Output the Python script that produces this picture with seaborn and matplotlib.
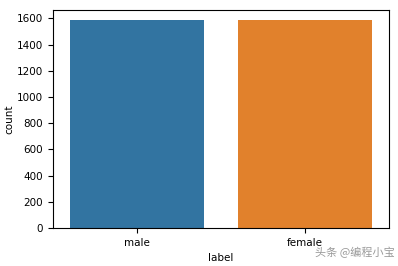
import matplotlib
matplotlib.use("Agg")
import matplotlib.pyplot as plt
import seaborn as sns
import pandas as pd

categories = ["male", "female"]
counts = [1584, 1584]

df = pd.DataFrame({"label": categories, "count": counts})

plt.rcParams['font.size'] = 7.5
fig = plt.figure(figsize=(3.98, 2.66), dpi=100)
ax = fig.add_axes([0.133, 0.143, 0.844, 0.819])
sns.barplot(data=df, x="label", y="count", hue="label", palette=["#1f77b4", "#ff7f0e"],
            saturation=0.75, legend=False, ax=ax, width=0.8)
ax.set_ylim(0, 1663)
ax.set_yticks(range(0, 1601, 200))
ax.set_xlabel("label", fontsize=7.5)
ax.set_ylabel("count", fontsize=7.5, labelpad=2)
ax.tick_params(labelsize=7.5)
fig.text(0.792, 0.05, "头条 @编程小宝", fontsize=8, color="#9a9a9a",
         family=["Noto Sans CJK SC", "DejaVu Sans"], va="center", ha="left")
fig.savefig("out.png", dpi=100)
